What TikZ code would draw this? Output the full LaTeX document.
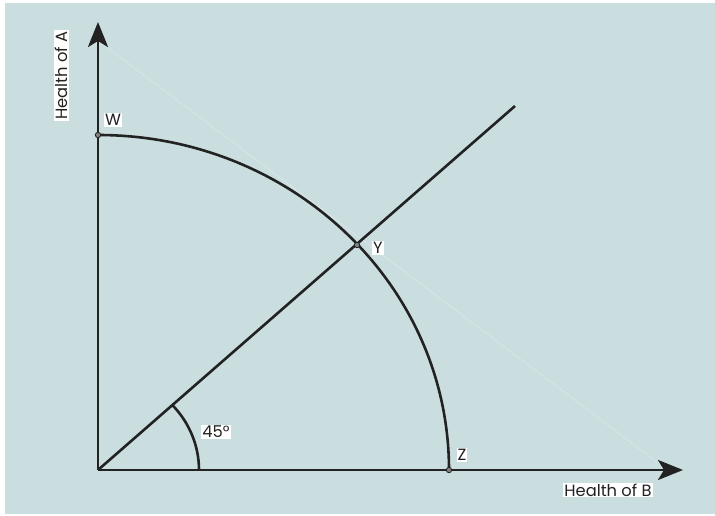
\documentclass[tikz,border=0pt]{standalone}
\usepackage{fontspec}
\setmainfont{Poppins}
\usetikzlibrary{arrows.meta, positioning}
\definecolor{plotbg}{HTML}{CBDEDF}
\definecolor{plotink}{HTML}{222222}
\definecolor{plotfaint}{HTML}{DCEAEA}

\begin{document}
\begin{tikzpicture}[x=1pt, y=1pt,
    axis/.style={line width=2.9pt, plotink, -{Stealth[length=25pt, width=20pt, inset=6pt]}},
    curve/.style={line width=2.6pt, plotink},
    lbl/.style={fill=white, inner sep=1pt, text=plotink, font=\fontsize{16.3}{16}\selectfont}]
    % frame and background
    \fill[white] (-98,-45) rectangle (617,470);
    \fill[plotbg] (-93,-44) rectangle (617,467);
    \useasboundingbox (-98,-45) rectangle (617,470);

    \coordinate (O) at (0,0);
    \coordinate (ytip) at (0,448);
    \coordinate (xtip) at (585,0);
    \coordinate (W) at (0,335);
    \coordinate (Z) at (351,0);
    \coordinate (Y) at (259,225);
    \coordinate (ray) at (417,364);
    \coordinate (fstart) at (10,422);
    \coordinate (fend) at (559,8);
    \coordinate (astart) at (101,0);

    % faint guide line
    \draw[plotfaint, line width=0.5pt] (fstart) -- (fend);

    % axes
    \draw[axis] (O) -- (ytip);
    \draw[axis] (O) -- (xtip);

    % frontier and 45 degree ray
    \draw[curve] (W) arc[start angle=90, end angle=0, x radius=351, y radius=335];
    \draw[curve] (O) -- (ray);
    \draw[curve] (astart) arc[start angle=0, end angle=42.6, x radius=101, y radius=96];

    \foreach \p in {W,Y,Z}
        \filldraw[draw=plotink, fill=gray, line width=0.8pt] (\p) circle (2.7);

    % labels
    \node[lbl, rotate=90] (healthA) at (-36.5,394.5) {Health of A};
    \node[lbl] (healthB) at (510,-20) {Health of B};
    \node[lbl] (labW) at (15,350) {W};
    \node[lbl] (labY) at (280,222) {Y};
    \node[lbl] (labZ) at (364,15) {Z};
    \node[lbl] (angle) at (118,38) {45°};
\end{tikzpicture}
\end{document}
